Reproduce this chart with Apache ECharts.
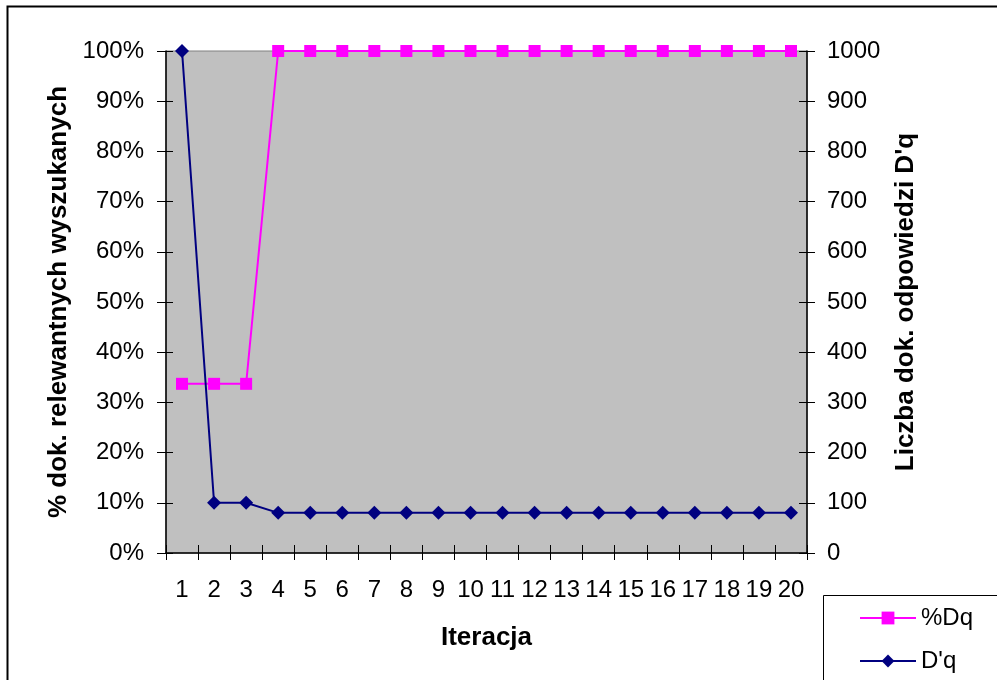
<!DOCTYPE html>
<html>
<head>
<meta charset="utf-8">
<script src="https://cdn.jsdelivr.net/npm/echarts@6/dist/echarts.min.js"></script>
<style>
  html, body { margin: 0; padding: 0; background: #fff; }
  #chart { width: 997px; height: 680px; }
</style>
</head>
<body>
<div id="chart"></div>
<script>
// Iteration numbers along the horizontal axis
const iterations = ['1','2','3','4','5','6','7','8','9','10','11','12','13','14','15','16','17','18','19','20'];
// Share of relevant documents retrieved (left axis, fraction of 1)
const pctDq = [0.337, 0.337, 0.337, 1, 1, 1, 1, 1, 1, 1, 1, 1, 1, 1, 1, 1, 1, 1, 1, 1];
// Number of documents in the answer D'q (right axis)
const dqCount = [1000, 100, 100, 80, 80, 80, 80, 80, 80, 80, 80, 80, 80, 80, 80, 80, 80, 80, 80, 80];

const FONT = '"Liberation Sans", Arial, sans-serif';
const chart = echarts.init(document.getElementById('chart'), null, { renderer: 'canvas' });

const tickLabel = { color: '#000', fontFamily: FONT, fontSize: 24 };
const axisName = { color: '#000', fontFamily: FONT, fontSize: 26, fontWeight: 'bold' };

chart.setOption({
  animation: false,
  backgroundColor: '#fff',
  grid: {
    left: 166, right: 190, top: 51, bottom: 127,
    show: true, backgroundColor: '#C0C0C0', borderColor: '#808080', borderWidth: 1
  },
  legend: {
    orient: 'vertical',
    left: 859, top: 606, padding: 0,
    itemWidth: 56, itemHeight: 16, itemGap: 19,
    textStyle: { color: '#000', fontFamily: FONT, fontSize: 24 },
    data: ['%Dq', "D'q"]
  },
  xAxis: [
    {
      type: 'category', data: iterations, position: 'bottom',
      boundaryGap: true,
      name: 'Iteracja', nameLocation: 'middle', nameGap: 72, nameTextStyle: axisName,
      axisLine: { lineStyle: { color: '#000', width: 1.5 } },
      axisTick: { show: true, inside: false, length: 7, lineStyle: { color: '#000' } },
      axisLabel: Object.assign({ margin: 25, interval: 0 }, tickLabel),
      splitLine: { show: false }
    },
    {
      // second copy of the category axis: inward tick marks
      type: 'category', data: iterations, position: 'bottom',
      boundaryGap: true,
      axisLine: { show: false },
      axisTick: { show: true, inside: true, length: 8, lineStyle: { color: '#000' } },
      axisLabel: { show: false },
      splitLine: { show: false }
    }
  ],
  yAxis: [
    {
      type: 'value', position: 'left', min: 0, max: 1, interval: 0.1,
      name: '% dok. relewantnych wyszukanych', nameLocation: 'middle', nameGap: 94,
      nameTextStyle: axisName,
      axisLine: { show: true, lineStyle: { color: '#000', width: 1.5 } },
      axisTick: { show: true, inside: false, length: 9, lineStyle: { color: '#000' } },
      axisLabel: Object.assign({ margin: 22, formatter: v => Math.round(v * 100) + '%' }, tickLabel),
      splitLine: { show: false }
    },
    {
      type: 'value', position: 'right', min: 0, max: 1000, interval: 100,
      name: "Liczba dok. odpowiedzi D'q", nameLocation: 'middle', nameGap: 86, nameRotate: 90,
      nameTextStyle: axisName,
      axisLine: { show: true, lineStyle: { color: '#000', width: 1.5 } },
      axisTick: { show: true, inside: false, length: 8, lineStyle: { color: '#000' } },
      axisLabel: Object.assign({ margin: 20, formatter: v => String(v) }, tickLabel),
      splitLine: { show: false }
    },
    {
      // inward ticks on the left axis
      type: 'value', position: 'left', min: 0, max: 1, interval: 0.1,
      axisLine: { show: false },
      axisTick: { show: true, inside: true, length: 7, lineStyle: { color: '#000' } },
      axisLabel: { show: false },
      splitLine: { show: false }
    },
    {
      // inward ticks on the right axis
      type: 'value', position: 'right', min: 0, max: 1000, interval: 100,
      axisLine: { show: false },
      axisTick: { show: true, inside: true, length: 8, lineStyle: { color: '#000' } },
      axisLabel: { show: false },
      splitLine: { show: false }
    }
  ],
  series: [
    {
      name: '%Dq', type: 'line', xAxisIndex: 0, yAxisIndex: 0,
      data: pctDq,
      symbol: 'rect', symbolSize: 12,
      lineStyle: { color: '#FF00FF', width: 2 },
      itemStyle: { color: '#FF00FF' }
    },
    {
      name: "D'q", type: 'line', xAxisIndex: 0, yAxisIndex: 1,
      data: dqCount,
      symbol: 'diamond', symbolSize: 14,
      lineStyle: { color: '#000080', width: 2 },
      itemStyle: { color: '#000080' }
    }
  ],
  graphic: [
    {
      // outer chart frame
      type: 'rect', silent: true, z: -1,
      shape: { x: 7.5, y: 6.5, width: 1100, height: 800 },
      style: { fill: 'none', stroke: '#000', lineWidth: 2 }
    },
    {
      // legend frame
      type: 'rect', silent: true,
      shape: { x: 823.5, y: 595.5, width: 300, height: 200 },
      style: { fill: '#fff', stroke: '#000', lineWidth: 1 },
      z: 0
    }
  ]
});
</script>
</body>
</html>
